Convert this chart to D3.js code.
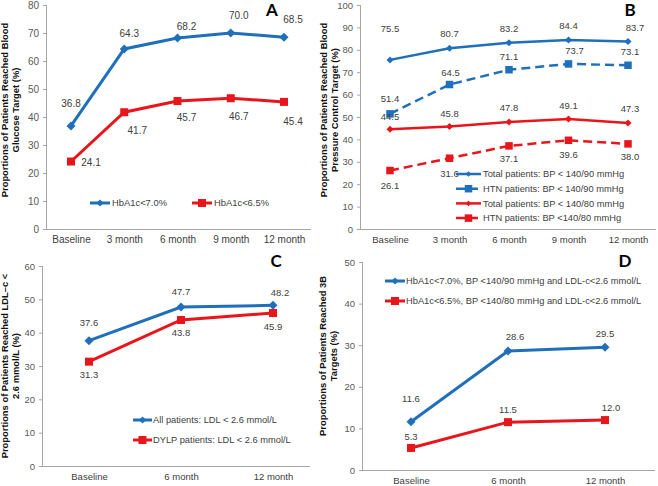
<!DOCTYPE html>
<html><head><meta charset="utf-8">
<script src="https://cdn.jsdelivr.net/npm/d3@7"></script>
<style>
html,body{margin:0;padding:0;background:#fff;}
svg{display:block;}
text{font-family:"Liberation Sans",Arial,sans-serif;}
</style></head>
<body>
<svg id="c" width="658" height="486"></svg>
<script>
// ---------- DATA ----------
const catsA = ["Baseline","3 month","6 month","9 month","12 month"];
const hba1c70 = [36.8,64.3,68.2,70.0,68.5];
const hba1c65 = [24.1,41.7,45.7,46.7,45.4];
const ticksA = [0,10,20,30,40,50,60,70,80];

const catsB = ["Baseline","3 month","6 month","9 month","12 month"];
const totalBP90 = [75.5,80.7,83.2,84.4,83.7];
const htnBP90   = [51.4,64.5,71.1,73.7,73.1];
const totalBP80 = [44.5,45.8,47.8,49.1,47.3];
const htnBP80   = [26.1,31.6,37.1,39.6,38.0];
const ticksB = [0,10,20,30,40,50,60,70,80,90,100];

const catsC = ["Baseline","6 month","12 month"];
const ldlAll  = [37.6,47.7,48.2];
const ldlDylp = [31.3,43.8,45.9];
const ticksC = [0,10,20,30,40,50,60];

const catsD = ["Baseline","6 month","12 month"];
const target3B70 = [11.6,28.6,29.5];
const target3B65 = [5.3,11.5,12.0];
const ticksD = [0,10,20,30,40,50];

// ---------- STYLE / LAYOUT ----------
const BLUE = "#1f6fba", RED = "#e8161b";
const svg = d3.select("#c");

function diamond(g, x, y, s, col){
  g.append("path").attr("d", `M${x},${y-s}L${x+s},${y}L${x},${y+s}L${x-s},${y}Z`).attr("fill", col);
}
function square(g, x, y, s, col){
  g.append("rect").attr("x", x-s/2).attr("y", y-s/2).attr("width", s).attr("height", s).attr("fill", col);
}

function panel(p){
  const g = svg.append("g");
  const x = d3.scalePoint().domain(p.cats).range(p.xr);
  const y = d3.scaleLinear().domain([0, p.max]).range(p.yr);
  // y axis
  const ya = g.append("g").attr("transform", `translate(${p.ax},0)`)
    .call(d3.axisLeft(y).tickValues(p.ticks).tickSize(4).tickPadding(4).tickFormat(d3.format("d")));
  ya.select(".domain").attr("stroke", "#a6a6a6").attr("d", `M-0.5,${p.yr[0]}V${p.yr[1]}`);
  ya.selectAll(".tick line").attr("stroke", "#a6a6a6");
  ya.selectAll(".tick text").attr("fill", "#595959").style("font-size", p.fs + "px");
  // x axis
  const xa = g.append("g").attr("transform", `translate(0,${p.yr[0]})`)
    .call(d3.axisBottom(x).tickSize(0).tickPadding(p.xpad));
  xa.select(".domain").attr("stroke", "#a6a6a6").attr("d", `M${p.ax},0.5H${p.axEnd}`);
  xa.selectAll(".tick text").attr("fill", "#404040").style("font-size", p.fs + "px");
  // y title
  const tt = g.append("text").attr("transform", `translate(${p.tx},${p.ty}) rotate(-90)`)
    .attr("text-anchor", "middle").attr("font-weight", "bold").style("font-size", "9.4px").attr("fill", "#111");
  p.title.forEach((t, i) => tt.append("tspan").attr("x", 0).attr("dy", i ? "1.12em" : 0).text(t));
  // panel letter
  g.append("text").attr("x", p.lx).attr("y", p.ly).attr("text-anchor", "middle")
    .attr("font-weight", "bold").style("font-family", "Lato, 'Open Sans', sans-serif").style("font-size", "17px")
    .text(p.letter);
  // series
  p.series.forEach(s => {
    const line = d3.line().x((d, i) => x(p.cats[i])).y(d => y(d));
    g.append("path").attr("d", line(s.values)).attr("fill", "none").attr("stroke", s.color)
      .attr("stroke-width", p.lw).attr("stroke-dasharray", s.dash || null);
    s.values.forEach((v, i) => {
      const cx = x(p.cats[i]), cy = y(v);
      if (s.marker === "d") diamond(g, cx, cy, s.ms, s.color); else square(g, cx, cy, s.ms, s.color);
    });
  });
  p.series.forEach(s => {
    s.values.forEach((v, i) => {
      const cx = x(p.cats[i]), cy = y(v);
      g.append("text").attr("x", cx + s.dx[i]).attr("y", cy + s.dy[i]).attr("dy", "0.35em")
        .attr("text-anchor", "middle").attr("fill", "#404040").style("font-size", p.fs + "px")
        .text(d3.format(".1f")(v));
    });
  });
  // legend
  const L = p.legend;
  p.series.forEach((s, i) => {
    const ly = L.y + i * L.step, ox = i * (L.xstep || 0);
    const x1 = L.x1 + ox, x2 = L.x2 + ox;
    g.append("line").attr("x1", x1).attr("x2", x2).attr("y1", ly).attr("y2", ly)
      .attr("stroke", s.color).attr("stroke-width", p.lw).attr("stroke-dasharray", s.dash ? "9,4" : null);
    const mx = (x1 + x2) / 2;
    if (s.marker === "d") diamond(g, mx, ly, s.ms * 0.8, s.color); else square(g, mx, ly, s.ms, s.color);
    g.append("text").attr("x", L.tx + ox).attr("y", ly).attr("dy", "0.35em").attr("fill", "#404040")
      .style("font-size", L.fs + "px").text(s.name);
  });
}

panel({
  cats: catsA, max: 80, ticks: ticksA, xr: [71, 284], yr: [229, 5], ax: 47, axEnd: 311, xpad: 7, fs: 10,
  lw: 3, tx: 8, ty: 110, title: ["Proportions of Patients Reached Blood", "Glucose Target (%)"],
  letter: "A", lx: 272, ly: 16,
  legend: {y: 203, step: 0, xstep: 102, x1: 90, x2: 110, tx: 112, fs: 9.4},
  series: [
    {name: "HbA1c<7.0%", values: hba1c70, color: BLUE, marker: "d", ms: 4.5,
     dx: [0,5,9,8,9], dy: [-22,-15,-12,-18,-18]},
    {name: "HbA1c<6.5%", values: hba1c65, color: RED, marker: "s", ms: 8,
     dx: [20,13,9,8,9], dy: [1,18,16,18,20]}
  ]
});

panel({
  cats: catsB, max: 100, ticks: ticksB, xr: [390, 628], yr: [229, 5], ax: 361, axEnd: 656, xpad: 7, fs: 9.5,
  lw: 2.5, tx: 327, ty: 110, title: ["Proportions of Patients Reached Blood", "Pressure Control Target (%)"],
  letter: "B", lx: 630, ly: 16,
  legend: {y: 174, step: 14.7, x1: 456, x2: 481, tx: 483, fs: 9.3},
  series: [
    {name: "Total patients: BP < 140/90 mmHg", values: totalBP90, color: BLUE, marker: "d", ms: 3.5,
     dx: [0,0,0,0,7], dy: [-31,-15,-14,-14,-14]},
    {name: "HTN patients: BP < 140/90 mmHg", values: htnBP90, color: BLUE, marker: "s", ms: 7.5, dash: "9,5",
     dx: [0,1,0,6,2], dy: [-15,-12,-13,-13,-14]},
    {name: "Total patients: BP < 140/80 mmHg", values: totalBP80, color: RED, marker: "d", ms: 3.5,
     dx: [0,0,0,0,2], dy: [-13,-13,-14,-13,-14]},
    {name: "HTN patients: BP <140/80 mmHg", values: htnBP80, color: RED, marker: "s", ms: 7.5, dash: "9,5",
     dx: [0,0,0,0,2], dy: [15,15,13,14,13]}
  ]
});

panel({
  cats: catsC, max: 60, ticks: ticksC, xr: [89, 273], yr: [466, 266], ax: 43, axEnd: 310, xpad: 7, fs: 9.5,
  lw: 3, tx: 8, ty: 366, title: ["Proportions of Patients Reached LDL\u2013c <", "2.6 mmol/L (%)"],
  letter: "C", lx: 276, ly: 267,
  legend: {y: 420, step: 20, x1: 133, x2: 152, tx: 153, fs: 9.3},
  series: [
    {name: "All patients: LDL < 2.6 mmol/L", values: ldlAll, color: BLUE, marker: "d", ms: 4.5,
     dx: [0,0,7], dy: [-18,-15,-13]},
    {name: "DYLP patients: LDL < 2.6 mmol/L", values: ldlDylp, color: RED, marker: "s", ms: 8,
     dx: [0,0,0], dy: [13,13,14]}
  ]
});

panel({
  cats: catsD, max: 50, ticks: ticksD, xr: [411, 605], yr: [470, 262], ax: 363, axEnd: 655, xpad: 7, fs: 9.5,
  lw: 3, tx: 326, ty: 356, title: ["Proportions of Patients Reached 3B", "Targets (%)"],
  letter: "D", lx: 625, ly: 267,
  legend: {y: 281, step: 20, x1: 385, x2: 405, tx: 406, fs: 9.3},
  series: [
    {name: "HbA1c<7.0%, BP <140/90 mmHg and LDL-c<2.6 mmol/L", values: target3B70, color: BLUE, marker: "d", ms: 4.5,
     dx: [0,7,0], dy: [-23,-14,-14]},
    {name: "HbA1c<6.5%, BP <140/80 mmHg and LDL-c<2.6 mmol/L", values: target3B65, color: RED, marker: "s", ms: 8,
     dx: [0,0,6], dy: [-11,-12,-12]}
  ]
});
</script>
</body></html>
